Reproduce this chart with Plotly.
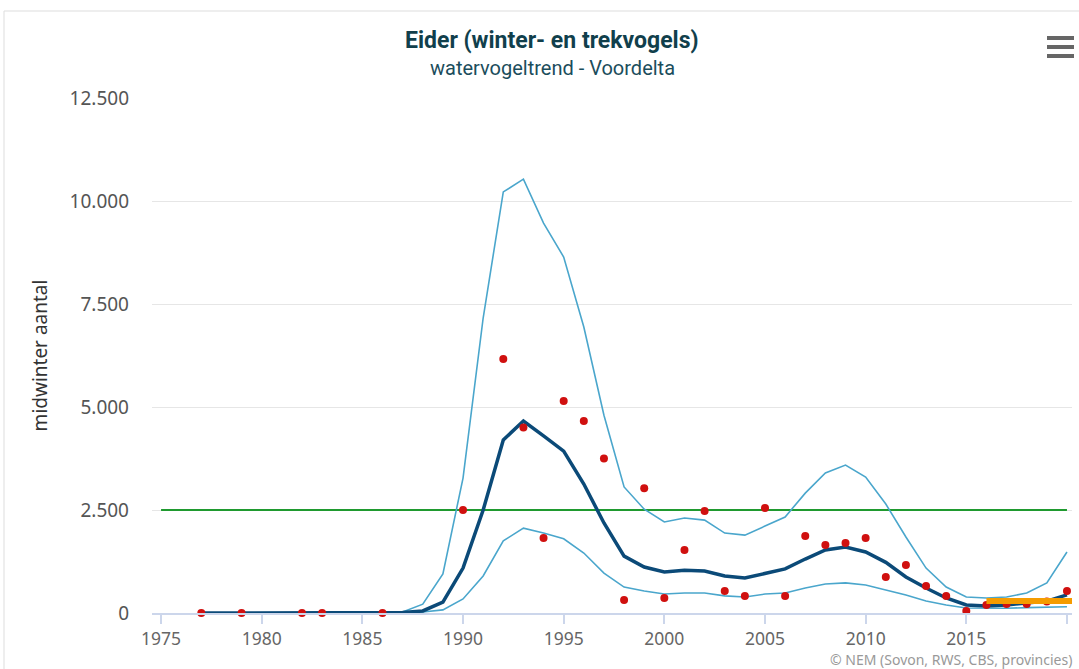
import plotly.graph_objects as go

# observed midwinter counts (red dots)
obs_years = [1977, 1979, 1982, 1983, 1986, 1990, 1992, 1993, 1994, 1995, 1996, 1997,
             1998, 1999, 2000, 2001, 2002, 2003, 2004, 2005, 2006, 2007, 2008, 2009,
             2010, 2011, 2012, 2013, 2014, 2015, 2016, 2017, 2018, 2019, 2020]
obs_vals = [0, 0, 0, 0, 0, 2500, 6165, 4500, 1820, 5145, 4660, 3750,
            315, 3030, 365, 1530, 2475, 535, 415, 2550, 415, 1870, 1650, 1700,
            1820, 875, 1165, 655, 415, 50, 195, 220, 220, 280, 535]

trend_years = list(range(1977, 2021))
trend = [0, 0, 0, 0, 0, 0, 0, 0, 0, 0, 10, 50, 265, 1090, 2500, 4200, 4660, 4300,
         3930, 3130, 2185, 1380, 1115, 995, 1040, 1020, 900, 850, 970, 1070, 1310,
         1530, 1600, 1480, 1230, 875, 605, 365, 195, 170, 195, 245, 290, 440]
upper = [0, 0, 0, 0, 0, 0, 0, 0, 0, 0, 25, 215, 950, 3275, 7160, 10220, 10530, 9465,
         8640, 6940, 4800, 3060, 2520, 2210, 2305, 2255, 1940, 1890, 2110, 2330, 2910,
         3400, 3590, 3300, 2645, 1845, 1090, 630, 390, 365, 390, 485, 730, 1480]
lower = [0, 0, 0, 0, 0, 0, 0, 0, 0, 0, 0, 25, 75, 340, 900, 1750, 2060, 1940,
         1800, 1455, 970, 630, 535, 460, 485, 485, 415, 390, 460, 485, 605,
         705, 730, 680, 560, 435, 290, 195, 120, 110, 115, 130, 145, 150]

threshold_years = [1975, 2020]
threshold_vals = [2500, 2500]
recent_years = [2016, 2020.4]
recent_vals = [290, 290]

x_ticks = [1975, 1980, 1985, 1990, 1995, 2000, 2005, 2010, 2015, 2020]
y_ticks = [0, 2500, 5000, 7500, 10000, 12500]
y_tick_text = ["0", "2.500", "5.000", "7.500", "10.000", "12.500"]

fig = go.Figure()
fig.add_trace(go.Scatter(x=threshold_years, y=threshold_vals, mode="lines",
                         line=dict(color="#1f9a2f", width=2), hoverinfo="skip"))
fig.add_trace(go.Scatter(x=trend_years, y=upper, mode="lines",
                         line=dict(color="#4aa6cc", width=1.6)))
fig.add_trace(go.Scatter(x=trend_years, y=lower, mode="lines",
                         line=dict(color="#4aa6cc", width=1.6)))
fig.add_trace(go.Scatter(x=trend_years, y=trend, mode="lines",
                         line=dict(color="#0b4a78", width=3.5)))
fig.add_trace(go.Scatter(x=obs_years, y=obs_vals, mode="markers",
                         marker=dict(color="#d0100f", size=8), cliponaxis=False))
fig.add_trace(go.Scatter(x=recent_years, y=recent_vals, mode="lines",
                         line=dict(color="#f59c00", width=6), cliponaxis=False))

font_main = "Noto Sans, Open Sans, sans-serif"
title_font = "Liberation Sans Narrow, Roboto, sans-serif"
fig.update_layout(
    width=1079, height=669,
    margin=dict(l=152, r=7, t=98, b=56),
    paper_bgcolor="white", plot_bgcolor="white",
    showlegend=False,
    font=dict(family=font_main, color="#555555", size=19),
    xaxis=dict(range=[1974.55, 2020.25], tickvals=x_ticks, showgrid=False,
               showline=True, linecolor="#ccd6eb", linewidth=2,
               ticks="outside", ticklen=9, tickwidth=2, tickcolor="#ccd6eb",
               tickfont=dict(size=17.5, color="#666666"), zeroline=False),
    yaxis=dict(range=[0, 12500], tickvals=y_ticks, ticktext=y_tick_text,
               showgrid=True, gridcolor="#e6e6e6", gridwidth=1, zeroline=False,
               showline=False, ticks="", ticklabelstandoff=22,
               tickfont=dict(size=19, color="#555555"),
               title=dict(text="midwinter aantal", standoff=16,
                          font=dict(size=19, color="#333333"))),
    annotations=[
        dict(text="<b>Eider (winter- en trekvogels)</b>", xref="paper", yref="paper",
             x=(552 - 152) / 920, y=1, yshift=58, xanchor="center", yanchor="middle", showarrow=False,
             font=dict(family=title_font, size=23, color="#113f4c")),
        dict(text="watervogeltrend - Voordelta", xref="paper", yref="paper",
             x=(552 - 152) / 920, y=1, yshift=30, xanchor="center", yanchor="middle", showarrow=False,
             font=dict(family=title_font, size=20, color="#1b4d5c")),
        dict(text="© NEM (Sovon, RWS, CBS, provincies)", xref="paper", yref="paper",
             x=1, xshift=2, y=0, yshift=-46, xanchor="right", yanchor="middle", showarrow=False,
             font=dict(size=14, color="#999999")),
    ],
    shapes=[
        dict(type="line", xref="paper", yref="paper", x0=(4 - 152) / 920, x1=1.01,
             y0=(613 - 11) / 515, y1=(613 - 11) / 515,
             line=dict(color="#dddddd", width=1)),
        dict(type="line", xref="paper", yref="paper", x0=(4 - 152) / 920, x1=(4 - 152) / 920,
             y0=(613 - 11) / 515, y1=(613 - 669) / 515,
             line=dict(color="#dddddd", width=1)),
    ],
)

# hamburger menu icon (three bars)
for dy in [38, 47, 56]:
    fig.add_shape(type="rect", xref="paper", yref="paper",
                  x0=(1047 - 152) / 920, x1=(1074 - 152) / 920,
                  y0=(613 - dy + 2) / 515, y1=(613 - dy - 2) / 515,
                  fillcolor="#666666", line=dict(width=0))

fig.write_html("out.html", config={"displayModeBar": False},
               post_script="document.body.style.margin='0';document.body.style.overflow='hidden';")
